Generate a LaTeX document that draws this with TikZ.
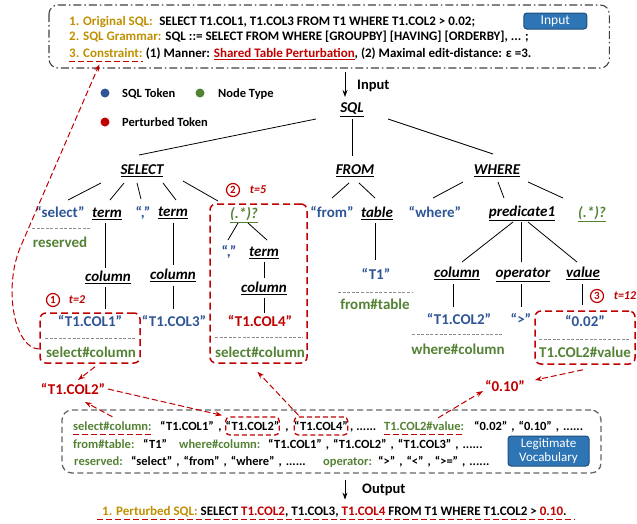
\documentclass[tikz,border=0pt]{standalone}
\usepackage{fontspec}
\setmainfont{Carlito}
\usetikzlibrary{arrows.meta,calc}
\definecolor{blueT}{HTML}{2F5597}
\definecolor{greenT}{HTML}{548235}
\definecolor{redT}{HTML}{C00000}
\definecolor{goldT}{HTML}{BF9000}
\definecolor{btnB}{HTML}{2E75B6}
\definecolor{btnD}{HTML}{1F4E79}
\definecolor{greyL}{HTML}{8C8C8C}
\definecolor{greyD}{HTML}{404040}
\newcommand\lnk[4]{\draw[treeedge] ([shift={#2}]#1.center) -- ([shift={#4}]#3.center);}
\newcommand\rarr[4]{\draw[redarrow] ([shift={#2}]#1) -- ([shift={#4}]#3);}
\newcommand\vs{\hspace{4pt},\hspace{4pt}}
\tikzset{
 tb/.style={inner sep=0pt, text depth=0pt, text height=9.5pt, font=\fontsize{15}{17}\selectfont\bfseries},
 ntp/.style={tb, font=\fontsize{15}{17}\selectfont\bfseries\itshape},
 tokB/.style={tb, text=blueT},
 tokR/.style={tb, text=redT},
 typG/.style={tb, text=greenT},
 treeedge/.style={draw=black, line width=0.8pt},
 sepline/.style={draw=greyL, line width=0.9pt, dash pattern=on 3pt off 1.6pt},
 redbox/.style={draw=redT, line width=1.5pt, dash pattern=on 7pt off 4pt, rounded corners=6pt, inner sep=0pt},
 redarrow/.style={draw=redT, line width=1pt, dash pattern=on 6pt off 3pt, -{Stealth[length=7pt,width=5pt]}},
 reddash/.style={draw=redT, line width=1.2pt, dash pattern=on 6pt off 3pt},
 circnum/.style={circle, draw=redT, line width=1.2pt, inner sep=0pt, minimum size=13pt, text=redT, font=\fontsize{11}{11}\selectfont\bfseries},
 tlab/.style={inner sep=0pt, text=redT, font=\fontsize{12}{12}\selectfont\bfseries\itshape},
 voc/.style={inner sep=0pt, text depth=0pt, text height=8pt, anchor=west, font=\fontsize{12.5}{14}\selectfont\bfseries},
 vocG/.style={voc, text=greenT},
 vbx/.style={voc, anchor=center, draw=redT, line width=1.3pt, dash pattern=on 5pt off 3pt, rounded corners=4pt, minimum width=53pt, minimum height=18pt},
 topline/.style={inner sep=0pt, text depth=0pt, text height=8.4pt, anchor=west, font=\fontsize{13}{15}\selectfont\bfseries},
 biglab/.style={inner sep=0pt, text depth=0pt, text height=9.3pt, anchor=west, font=\fontsize{14.5}{16}\selectfont\bfseries},
 ldot/.style={circle, inner sep=0pt, minimum size=9pt},
 legtxt/.style={inner sep=0pt, anchor=west, text depth=0pt, text height=8pt, font=\fontsize{12.5}{14}\selectfont\bfseries},
 btn/.style={fill=btnB, draw=btnD, line width=1pt, rounded corners=3pt, inner sep=0pt, text=white},
}
\begin{document}
\begin{tikzpicture}[x=1pt,y=-1pt]
\useasboundingbox (0,0) rectangle (637,523);
% ---------- top box ----------
\node[topline] (l1) at (69,21) {\textcolor{goldT}{1. Original SQL:}\enspace SELECT T1.COL1, T1.COL3 FROM T1 WHERE T1.COL2 > 0.02;};
\node[topline] (l2) at (69,36) {\textcolor{goldT}{2. SQL Grammar:} SQL ::= SELECT FROM WHERE [GROUPBY] [HAVING] [ORDERBY], ... ;};
\node[topline, text=goldT] (lcon) at (69,53) {3. Constraint:};
\node[topline] (l3) at ([xshift=3pt]lcon.east) {(1) Manner: \textcolor{redT}{\underline{Shared Table Perturbation}}, (2) Maximal edit-distance: ε =3.};
\draw[reddash] ([shift={(0,4)}]lcon.south west) -- ([shift={(0,4)}]lcon.south east);
\node[btn, anchor=west, minimum width=63pt, minimum height=16pt, font=\fontsize{13.5}{13.5}\selectfont] (inbtn) at ([xshift=48pt]l1.east) {Input};
\draw[draw=greyD, line width=1.1pt, dash pattern=on 8pt off 3pt on 1.5pt off 3pt, rounded corners=9pt] ($(l1.west)+(-20,-16)$) rectangle ($(inbtn.east)+(22,47)$);
% ---------- legend ----------
\node[ldot, fill=blueT] (d1) at (105,93) {};
\node[legtxt] (g1) at (122,93) {SQL Token};
\node[ldot, fill=greenT] (d2) at (200,93) {};
\node[legtxt] (g2) at (218,93) {Node Type};
\node[ldot, fill=redT] (d3) at (105,122) {};
\node[legtxt] (g3) at (122,122) {Perturbed Token};
% ---------- tree ----------
\node[ntp] (sql) at (352,108) {\underline{SQL}};
\draw[-{Stealth[length=7pt,width=5pt]}, line width=0.9pt] ([shift={(-7,-36)}]sql.center) -- ([shift={(-7,-11)}]sql.center);
\node[biglab] (inlab) at (357,85) {Input};
\node[ntp] (sel) at (142,170) {\underline{SELECT}};
\node[ntp] (frm) at (355,170) {\underline{FROM}};
\node[ntp] (whr) at (497,170) {\underline{WHERE}};
\node[tokB] (tsel) at (60,213) {“select”};
\node[ntp] (term1) at (107,213) {\underline{term}};
\node[tokB] (cm1) at (143,213) {“,”};
\node[ntp] (term2) at (173,212) {\underline{term}};
\node[ntp, text=greenT] (opt1) at (244,214) {\underline{(.*)?}};
\node[tokB] (tfrom) at (332,213) {“from”};
\node[ntp] (tab) at (377,213) {\underline{table}};
\node[tokB] (twhere) at (435,213) {“where”};
\node[ntp] (pred) at (522,212) {\underline{predicate1}};
\node[ntp, text=greenT] (opt2) at (592,213) {\underline{(.*)?}};
\node[typG] (rsv) at (60,243) {reserved};
\draw[sepline] (32,228) -- (90,228);
\node[ntp] (col1) at (108,277) {\underline{column}};
\node[ntp] (col2) at (173,275) {\underline{column}};
\node[tokB] (cm2) at (229,252) {“,”};
\node[ntp] (term3) at (264,252) {\underline{term}};
\node[ntp] (col3) at (264,288) {\underline{column}};
\node[tokB] (tt1) at (376,275) {“T1”};
\draw[sepline] (338,292) -- (413,292);
\node[typG] (ftab) at (375,305) {from\#table};
\node[ntp] (colw) at (457,273) {\underline{column}};
\node[ntp] (oper) at (523,273) {\underline{operator}};
\node[ntp] (val) at (583,273) {\underline{value}};
\node[tokB] (v1) at (90,322) {“T1.COL1”};
\node[tokB] (v3) at (174,322) {“T1.COL3”};
\node[tokR] (v4) at (260,322) {“T1.COL4”};
\node[tokB] (vw) at (459,320) {“T1.COL2”};
\node[tokB] (vgt) at (521,320) {“>”};
\node[tokB] (v002) at (585,322) {“0.02”};
\draw[sepline] (412,334) -- (503,334);
\node[typG] (wcol) at (458,350) {where\#column};
% boxes
\node[redbox, minimum width=100pt, minimum height=50pt] (b1) at (90,338) {};
\draw[sepline] (45,338) -- (135,338);
\node[typG] (sc1) at (91,353) {select\#column};
\node[redbox, minimum width=97pt, minimum height=159pt] (b2) at (258.5,283.5) {};
\draw[sepline] (215,337) -- (303,337);
\node[typG] (sc2) at (260,353) {select\#column};
\node[redbox, minimum width=100pt, minimum height=53pt] (b3) at (585,337.5) {};
\draw[sepline] (539,339) -- (631,339);
\node[typG] (tv) at (585,353) {T1.COL2\#value};
\node[circnum] (c1) at (53,300) {1};
\node[tlab] (t1) at (77,300) {t=2};
\node[circnum] (c2) at (233,190) {2};
\node[tlab] (t2) at (258,190) {t=5};
\node[circnum] (c3) at (597,296) {3};
\node[tlab] (t3) at (625,296) {t=12};
% tree edges
\lnk{sql}{(-36,11)}{sel}{(-3,-15)}
\lnk{sql}{(0,11)}{frm}{(-3,-14)}
\lnk{sql}{(36,11)}{whr}{(-4,-16)}
\lnk{sel}{(-41,13)}{tsel}{(8,-13)}
\lnk{sel}{(-18,13)}{term1}{(3,-13)}
\lnk{sel}{(-5,13)}{cm1}{(-2,-14)}
\lnk{sel}{(21,13)}{term2}{(3,-12)}
\lnk{sel}{(41,11)}{opt1}{(-26,-13)}
\lnk{frm}{(-6,13)}{tfrom}{(0,-15)}
\lnk{frm}{(4,13)}{tab}{(-2,-15)}
\lnk{whr}{(-34,12)}{twhere}{(-2,-15)}
\lnk{whr}{(1,12)}{pred}{(-18,-14)}
\lnk{whr}{(31,12)}{opt2}{(-29,-15)}
\lnk{term1}{(-2,10)}{col1}{(-3,-9)}
\lnk{col1}{(-3,10)}{v1}{(15,-13)}
\lnk{term2}{(0,11)}{col2}{(0,-10)}
\lnk{col2}{(0,11)}{v3}{(-1,-13)}
\lnk{opt1}{(-6,9)}{cm2}{(-1,-12)}
\lnk{opt1}{(4,9)}{term3}{(3,-12)}
\lnk{term3}{(0,10)}{col3}{(0,-10)}
\lnk{col3}{(0,10)}{v4}{(4,-9)}
\lnk{tab}{(-2,10)}{tt1}{(-1,-15)}
\lnk{pred}{(-9,10)}{colw}{(5,-11)}
\lnk{pred}{(-1,10)}{oper}{(-2,-11)}
\lnk{pred}{(6,10)}{val}{(-6,-11)}
\lnk{colw}{(-4,11)}{vw}{(-6,-13)}
\lnk{oper}{(-2,11)}{vgt}{(0,-13)}
\lnk{val}{(-1,11)}{v002}{(-3,-17)}
% perturbed tokens
\node[tokR] (pert) at (73,390) {“T1.COL2”};
\node[tokR] (p010) at (505,387) {“0.10”};
% ---------- vocabulary ----------
\node[draw=greyD!80, line width=1.3pt, dash pattern=on 6pt off 3.5pt, rounded corners=10pt, minimum width=539pt, minimum height=63pt] (vbox) at (331.5,441.5) {};
\node[vocG] (vsc) at (73,426) {select\#column:};
\node[voc] (v11) at (160,426) {“T1.COL1”};
\node[voc, anchor=center] (vc1) at (220,426) {,};
\node[vbx] (vb2) at (252.5,426) {“T1.COL2”};
\node[voc, anchor=center] (vc2) at (287,426) {,};
\node[vbx] (vb4) at (321,426) {“T1.COL4”};
\node[voc] (v1e) at (350,426) {, ......};
\node[vocG] (vtv) at (384,426) {T1.COL2\#value:};
\node[voc] (v1f) at (474,426) {“0.02”\vs“0.10”\vs......};
\draw[reddash] ([shift={(0,4)}]vsc.south west) -- ([shift={(0,4)}]vsc.south east);
\draw[reddash] ([shift={(0,4)}]vtv.south west) -- ([shift={(0,4)}]vtv.south east);
\node[vocG] (vft) at (73,444) {from\#table:};
\node[voc] (vt1) at (143,444) {“T1”};
\node[vocG] (vwc) at (179,444) {where\#column:};
\node[voc] (v2r) at (268,444) {“T1.COL1”\vs“T1.COL2”\vs“T1.COL3”\vs......};
\node[vocG] (vrs) at (74,461) {reserved:};
\node[voc] (v3r) at (131,461) {“select”\vs“from”\vs“where”\vs......};
\node[vocG] (vop) at (323,461) {operator:};
\node[voc] (v3o) at (378,461) {“>”\vs“<”\vs“>=”\vs......};
\node[btn, minimum width=81pt, minimum height=30pt, align=center, font=\fontsize{13}{14}\selectfont] (lgbtn) at (548.5,451) {Legitimate\\Vocabulary};
% ---------- red arrows ----------
\rarr{b1.south}{(5,3)}{pert.center}{(5,-10)}
\rarr{pert.center}{(35,-1)}{vb2.north west}{(-3,-1)}
\rarr{vsc.north}{(0,-5)}{pert.center}{(12,12)}
\rarr{vb4.north west}{(5,-1)}{b2.south}{(-1,8)}
\rarr{b3.south}{(-2,5)}{p010.center}{(30,-7)}
\rarr{vtv.north}{(14,-4)}{p010.center}{(-22,4)}
\draw[redarrow] ([shift={(0,11)}]b1.west) .. controls (15,349) and (3,290) .. (20,248) -- ([shift={(-6.5,7)}]lcon.south);
% ---------- output ----------
\node[topline] (psql) at (102,511) {\textcolor{goldT}{1. Perturbed SQL:} SELECT \textcolor{redT}{T1.COL2}, T1.COL3, \textcolor{redT}{T1.COL4} FROM T1 WHERE T1.COL2 > \textcolor{redT}{0.10}.};
\draw[reddash] ([shift={(-5,4)}]psql.south west) -- ([shift={(8,4)}]psql.south east);
\draw[-{Stealth[length=7pt,width=5pt]}, line width=0.9pt] ([shift={(13.5,6)}]vbox.south) -- ([shift={(243,-7)}]psql.north west);
\node[biglab] (outlab) at (362,489) {Output};
\end{tikzpicture}
\end{document}
